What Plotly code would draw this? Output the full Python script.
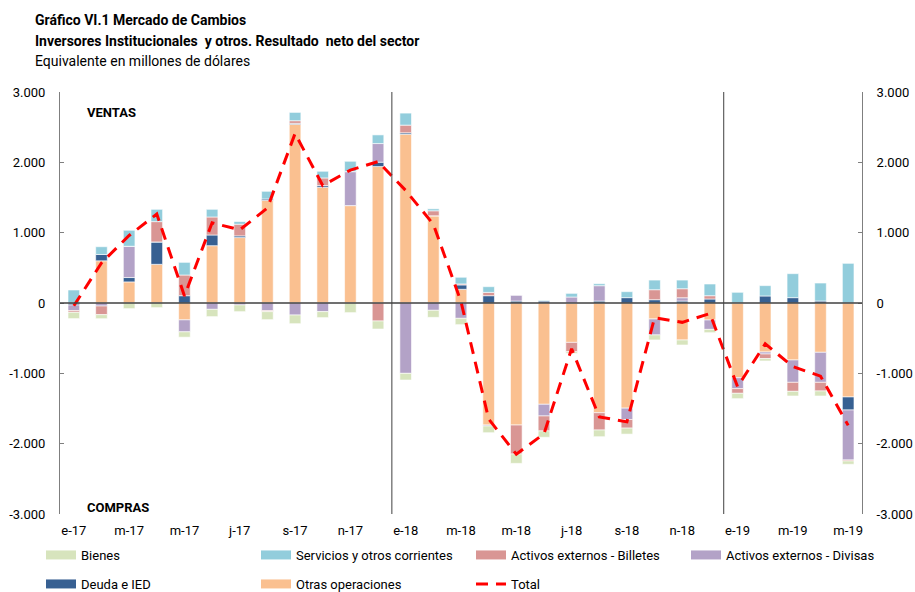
import plotly.graph_objects as go

months = list(range(29))
tick_pos = [0, 2, 4, 6, 8, 10, 12, 14, 16, 18, 20, 22, 24, 26, 28]
tick_labels = ["e-17", "m-17", "m-17", "j-17", "s-17", "n-17", "e-18", "m-18",
               "m-18", "j-18", "s-18", "n-18", "e-19", "m-19", "m-19"]
y_ticks = [-3000, -2000, -1000, 0, 1000, 2000, 3000]
y_tick_labels = ["-3.000", "-2.000", "-1.000", "0", "1.000", "2.000", "3.000"]

otras = [0, 600, 300, 550, -240, 815, 930, 1460, 2540, 1645, 1385, 1940,
         2400, 1240, 195, -1735, -1735, -1440, -560, -1560, -1495, -227, -526, -242,
         -1062, -697, -810, -701, -1336]
deuda = [-28, 90, 62, 318, 104, 152, 24, 19, 14, 24, 0, 62,
         20, 0, 62, 104, 28, 28, 0, 28, 76, 47, 28, 57,
         0, 100, 76, 28, -185]
divisas = [-80, -43, 445, 0, -170, -90, -28, -109, -171, -123, 483, 265,
           -1000, -104, -218, -14, 85, -166, 85, 218, -161, -227, 47, -133,
           -156, -28, -318, -427, -711]
billetes = [-24, -123, 0, 289, 294, 256, 166, -14, 38, 109, 0, -256,
            109, 71, 14, 47, -412, -213, -133, -246, -123, 142, 128, 47,
            -66, -66, -128, -123, -14]
servicios = [185, 110, 227, 175, 180, 109, 38, 109, 118, 95, 147, 123,
             171, 28, 95, 81, 0, 10, 52, 28, 85, 137, 123, 166,
             152, 147, 341, 256, 564]
bienes = [-90, -57, -80, -66, -76, -104, -95, -114, -123, -85, -137, -114,
          -95, -100, -90, -95, -133, -90, -24, -95, -85, -71, -71, -47,
          -76, -33, -66, -71, -47]
total = [-40, 570, 960, 1265, 100, 1140, 1040, 1350, 2410, 1670, 1890, 2010,
         1600, 1120, 20, -1650, -2150, -1860, -650, -1620, -1690, -210, -275, -150,
         -1190, -580, -905, -1040, -1740]

C_BIENES = "#d7e4bd"
C_SERV = "#92cddc"
C_BILL = "#d99694"
C_DIV = "#b3a2c7"
C_DEUDA = "#376092"
C_OTRAS = "#fac090"
C_TOTAL = "#ff0000"

FONT = "Roboto"
BAR_W = 0.42

fig = go.Figure()

stack = [
    ("Otras operaciones", otras, C_OTRAS),
    ("Deuda e IED", deuda, C_DEUDA),
    ("Activos externos - Divisas", divisas, C_DIV),
    ("Activos externos - Billetes", billetes, C_BILL),
    ("Servicios y otros corrientes", servicios, C_SERV),
    ("Bienes", bienes, C_BIENES),
]
for name, vals, col in stack:
    fig.add_trace(go.Bar(
        x=months, y=vals, name=name, width=BAR_W,
        marker=dict(color=col, line=dict(color="white", width=0.6)),
        showlegend=False,
    ))

fig.add_trace(go.Scatter(
    x=months, y=total, name="Total", mode="lines",
    line=dict(color=C_TOTAL, width=3, dash="12px,8px"),
    showlegend=False,
))

# legend proxies (no data)
row1 = [("Bienes", C_BIENES), ("Servicios y otros corrientes", C_SERV),
        ("Activos externos - Billetes", C_BILL), ("Activos externos - Divisas", C_DIV)]
row2 = [("Deuda e IED", C_DEUDA), ("Otras operaciones", C_OTRAS)]
for name, col in row1:
    fig.add_trace(go.Scatter(x=[None], y=[None], mode="lines", name=name,
                             line=dict(color=col, width=9), legend="legend"))
for name, col in row2:
    fig.add_trace(go.Scatter(x=[None], y=[None], mode="lines", name=name,
                             line=dict(color=col, width=9), legend="legend2"))
fig.add_trace(go.Scatter(x=[None], y=[None], mode="lines", name="Total",
                         line=dict(color=C_TOTAL, width=3, dash="12px,8px"),
                         legend="legend2"))

W, H = 915, 592
L, R, T, B = 60, 53, 92, 78
pw, ph = W - L - R, H - T - B

def px(xp):
    return (xp - L) / pw

def py(yp):
    return (H - B - yp) / ph

yax = dict(range=[-3000, 3000], tickvals=y_ticks, ticktext=y_tick_labels,
           showgrid=False, showline=True, linecolor="#7f7f7f", linewidth=1,
           ticks="inside", ticklen=4, tickcolor="#7f7f7f",
           tickfont=dict(family=FONT, size=13, color="#000"),
           ticklabelstandoff=11, zeroline=False, fixedrange=True, automargin=False)

LEG = dict(orientation="h", xanchor="left", yanchor="top",
           entrywidth=170, entrywidthmode="pixels", itemwidth=30,
           font=dict(family=FONT, size=13, color="#000"),
           bgcolor="rgba(0,0,0,0)", tracegroupgap=0)

fig.update_layout(
    width=W, height=H,
    margin=dict(l=L, r=R, t=T, b=B, autoexpand=False),
    plot_bgcolor="white", paper_bgcolor="white",
    barmode="relative",
    font=dict(family=FONT, size=13, color="#000"),
    xaxis=dict(range=[-0.5, 28.5], tickvals=tick_pos, ticktext=tick_labels,
               showgrid=False, showline=False, zeroline=False, ticks="",
               tickfont=dict(family=FONT, size=13, color="#000"),
               ticklabelstandoff=7, automargin=False, fixedrange=True),
    yaxis=yax,
    yaxis2=dict(yax, overlaying="y", side="right"),
    legend=dict(LEG, x=px(41), y=py(540)),
    legend2=dict(LEG, x=px(41), y=py(569)),
    showlegend=True,
)

# zero line across the plot and year separators
fig.add_hline(y=0, line=dict(color="#404040", width=1.5))
for xv in [11.5, 23.5]:
    fig.add_shape(type="line", xref="x", yref="paper", x0=xv, x1=xv, y0=0, y1=1,
                  line=dict(color="#404040", width=1))

# dummy trace on yaxis2 so the right axis is drawn
fig.add_trace(go.Scatter(x=[None], y=[None], yaxis="y2", showlegend=False, hoverinfo="skip"))

titles = [("<b>Gráfico VI.1 Mercado de Cambios</b>", 20),
          ("<b>Inversores Institucionales  y otros. Resultado  neto del sector</b>", 41),
          ("Equivalente en millones de dólares", 61)]
for txt, yp in titles:
    fig.add_annotation(text=txt, xref="paper", yref="paper", x=px(33), y=py(yp),
                       xanchor="left", yanchor="middle", showarrow=False,
                       font=dict(family=FONT, size=14, color="#000"))

fig.add_annotation(text="<b>VENTAS</b>", xref="paper", yref="paper", x=px(85), y=py(112),
                   xanchor="left", yanchor="middle", showarrow=False,
                   font=dict(family=FONT, size=13, color="#000"))
fig.add_annotation(text="<b>COMPRAS</b>", xref="paper", yref="paper", x=px(85), y=py(507),
                   xanchor="left", yanchor="middle", showarrow=False,
                   font=dict(family=FONT, size=13, color="#000"))

fig.write_html("out.html", config={"displayModeBar": False},
               post_script="document.body.style.margin='0px';")
